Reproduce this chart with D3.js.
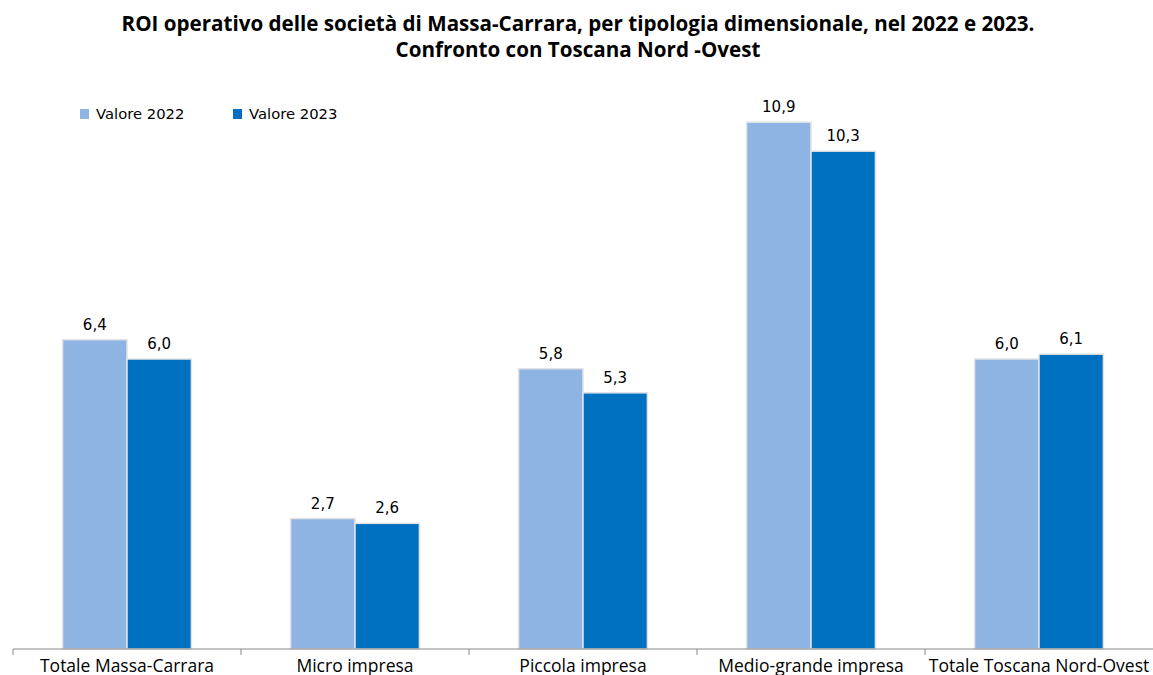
<!DOCTYPE html>
<html>
<head>
<meta charset="utf-8">
<script src="https://cdn.jsdelivr.net/npm/d3@7/dist/d3.min.js"></script>
<style>
  html, body { margin: 0; padding: 0; background: #fff; }
  svg { display: block; }
</style>
</head>
<body>
<svg id="chart" width="1153" height="675"></svg>
<script>
// Categories and values (ROI operativo, %)
const categories = ["Totale Massa-Carrara", "Micro impresa", "Piccola impresa", "Medio-grande impresa", "Totale Toscana Nord-Ovest"];
const seriesNames = ["Valore 2022", "Valore 2023"];
const values2022 = [6.4, 2.7, 5.8, 10.9, 6.0];
const values2023 = [6.0, 2.6, 5.3, 10.3, 6.1];
const titleLines = ["ROI operativo delle società di Massa-Carrara, per tipologia dimensionale, nel 2022 e 2023.", "Confronto con Toscana Nord -Ovest"];

const colors = ["#8EB4E3", "#0070C0"];
const svg = d3.select("#chart");

const baseY = 649, topY = 69;
const x0 = d3.scaleBand().domain(categories).range([13, 1153]).padding(0);
const x1 = d3.scaleBand().domain(seriesNames).range([0, x0.bandwidth()]).paddingInner(0).paddingOuter(0.77);
const y = d3.scaleLinear().domain([0, 12]).range([baseY, topY]);

const fmt = v => d3.format(".1f")(v).replace(".", ",");

// Title
const title = svg.append("text")
  .attr("x", 578).attr("y", 31)
  .attr("text-anchor", "middle")
  .style("font-family", "'Open Sans', sans-serif")
  .style("font-weight", "bold")
  .style("font-size", "20.6px")
  .style("fill", "#000");
titleLines.forEach((t, i) => {
  title.append("tspan").attr("x", 578).attr("dy", i === 0 ? 0 : 26).text(t);
});

// Legend
const legend = svg.append("g");
const legendX = [80, 233];
seriesNames.forEach((s, i) => {
  const g = legend.append("g").attr("transform", `translate(${legendX[i]},109)`);
  g.append("rect").attr("width", 9).attr("height", 10).attr("fill", colors[i]);
  g.append("text").attr("x", 16).attr("y", 10)
    .style("font-family", "'DejaVu Sans', Verdana, sans-serif")
    .style("font-size", "14.8px").style("fill", "#000").text(s);
});

// Bars
const rows = categories.map((c, i) => ({ cat: c, vals: [values2022[i], values2023[i]] }));
const groups = svg.append("g").selectAll("g").data(rows).join("g")
  .attr("transform", d => `translate(${x0(d.cat)},0)`);

groups.selectAll("rect").data(d => d.vals.map((v, j) => ({ key: seriesNames[j], v, j })))
  .join("rect")
  .attr("x", d => x1(d.key))
  .attr("y", d => y(d.v))
  .attr("width", x1.bandwidth())
  .attr("height", d => y(0) - y(d.v))
  .attr("fill", d => colors[d.j])
  .attr("stroke", "#e3e3e3")
  .attr("stroke-width", 1.5);

groups.selectAll("text.val").data(d => d.vals.map((v, j) => ({ key: seriesNames[j], v, j })))
  .join("text").attr("class", "val")
  .attr("x", d => x1(d.key) + x1.bandwidth() / 2)
  .attr("y", d => y(d.v) - 10)
  .attr("text-anchor", "middle")
  .style("font-family", "'DejaVu Sans', Verdana, sans-serif")
  .style("font-size", "15px")
  .style("fill", "#000")
  .text(d => fmt(d.v));

// Category axis
const axis = svg.append("g").attr("transform", `translate(0,${baseY})`)
  .call(d3.axisBottom(x0).tickSize(0).tickPadding(0));
axis.select(".domain").attr("stroke", "#888").attr("d", `M13,0H1153`);
axis.selectAll(".tick text")
  .attr("y", 23)
  .attr("dy", 0)
  .style("font-family", "'Open Sans', sans-serif")
  .style("font-size", "17.5px")
  .style("fill", "#000");
// boundary ticks between categories
const bounds = categories.map(c => x0(c));
axis.selectAll("line.sep").data(bounds).join("line").attr("class", "sep")
  .attr("x1", d => d).attr("x2", d => d).attr("y1", 0).attr("y2", 6)
  .attr("stroke", "#888");
</script>
</body>
</html>
